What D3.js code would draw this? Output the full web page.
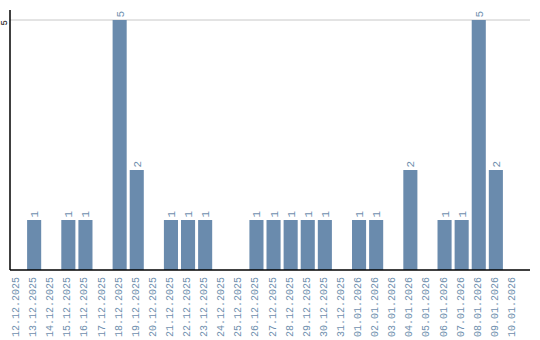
<!DOCTYPE html>
<html>
<head>
<meta charset="utf-8">
<script src="https://cdn.jsdelivr.net/npm/d3@7"></script>
<style>
  body { margin: 0; background: #fff; }
  svg { display: block; font-family: "Liberation Mono", "DejaVu Sans Mono", monospace; }
</style>
</head>
<body>
<svg id="chart"></svg>
<script>
const dates = [
  '12.12.2025', '13.12.2025', '14.12.2025', '15.12.2025', '16.12.2025',
  '17.12.2025', '18.12.2025', '19.12.2025', '20.12.2025', '21.12.2025',
  '22.12.2025', '23.12.2025', '24.12.2025', '25.12.2025', '26.12.2025',
  '27.12.2025', '28.12.2025', '29.12.2025', '30.12.2025', '31.12.2025',
  '01.01.2026', '02.01.2026', '03.01.2026', '04.01.2026', '05.01.2026',
  '06.01.2026', '07.01.2026', '08.01.2026', '09.01.2026', '10.01.2026'
];
const counts = [0, 1, 0, 1, 1, 0, 5, 2, 0, 1, 1, 1, 0, 0, 1, 1, 1, 1, 1, 0, 1, 1, 0, 2, 0, 1, 1, 5, 2, 0];
const yTicks = [5];

const width = 540;
const height = 340;
const left = 10;
const right = 530;
const bottom = 270;
const step = 17;
const barColor = '#6a8bad';
const textColor = '#6f8fae';

const svg = d3.select('#chart').attr('width', width).attr('height', height);

const x = d3.scaleBand()
  .domain(dates)
  .range([left, left + step * dates.length])
  .paddingInner(3 / step)
  .paddingOuter(0)
  .align(0);

const y = d3.scaleLinear().domain([0, 5]).range([bottom, 20]);

const rows = dates.map((d, i) => ({ date: d, value: counts[i] })).filter(d => d.value > 0);

// grid line
svg.selectAll('.grid')
  .data(yTicks)
  .enter()
  .append('line')
  .attr('class', 'grid')
  .attr('x1', left)
  .attr('x2', right)
  .attr('y1', d => y(d))
  .attr('y2', d => y(d))
  .attr('stroke', '#c8c8c8')
  .attr('stroke-width', 1);

// bars
svg.selectAll('.bar')
  .data(rows)
  .enter()
  .append('rect')
  .attr('class', 'bar')
  .attr('x', d => x(d.date))
  .attr('y', d => y(d.value))
  .attr('width', x.bandwidth())
  .attr('height', d => bottom - y(d.value))
  .attr('fill', barColor);

// value labels
svg.selectAll('.val')
  .data(rows)
  .enter()
  .append('text')
  .attr('class', 'val')
  .attr('transform', d => `translate(${x(d.date) + x.bandwidth() / 2 + 4},${y(d.value) - 2.5}) rotate(-90)`)
  .attr('font-size', 11)
  .attr('fill', textColor)
  .text(d => d.value);

// y axis
svg.append('line')
  .attr('x1', left).attr('x2', left)
  .attr('y1', 10).attr('y2', bottom)
  .attr('stroke', '#000').attr('stroke-width', 1.5);

svg.selectAll('.ytick')
  .data(yTicks)
  .enter()
  .append('text')
  .attr('class', 'ytick')
  .attr('transform', d => `translate(7,${y(d) + 5.5}) rotate(-90)`)
  .attr('font-size', 9)
  .attr('fill', '#000')
  .text(d => d);

// x axis
svg.append('line')
  .attr('x1', left).attr('x2', right)
  .attr('y1', bottom).attr('y2', bottom)
  .attr('stroke', '#000').attr('stroke-width', 1.5);

svg.selectAll('.xtick')
  .data(dates)
  .enter()
  .append('text')
  .attr('class', 'xtick')
  .attr('transform', d => `translate(${x(d) + 9},277) rotate(-90)`)
  .attr('text-anchor', 'end')
  .attr('font-size', 10)
  .attr('fill', textColor)
  .text(d => d);
</script>
</body>
</html>
